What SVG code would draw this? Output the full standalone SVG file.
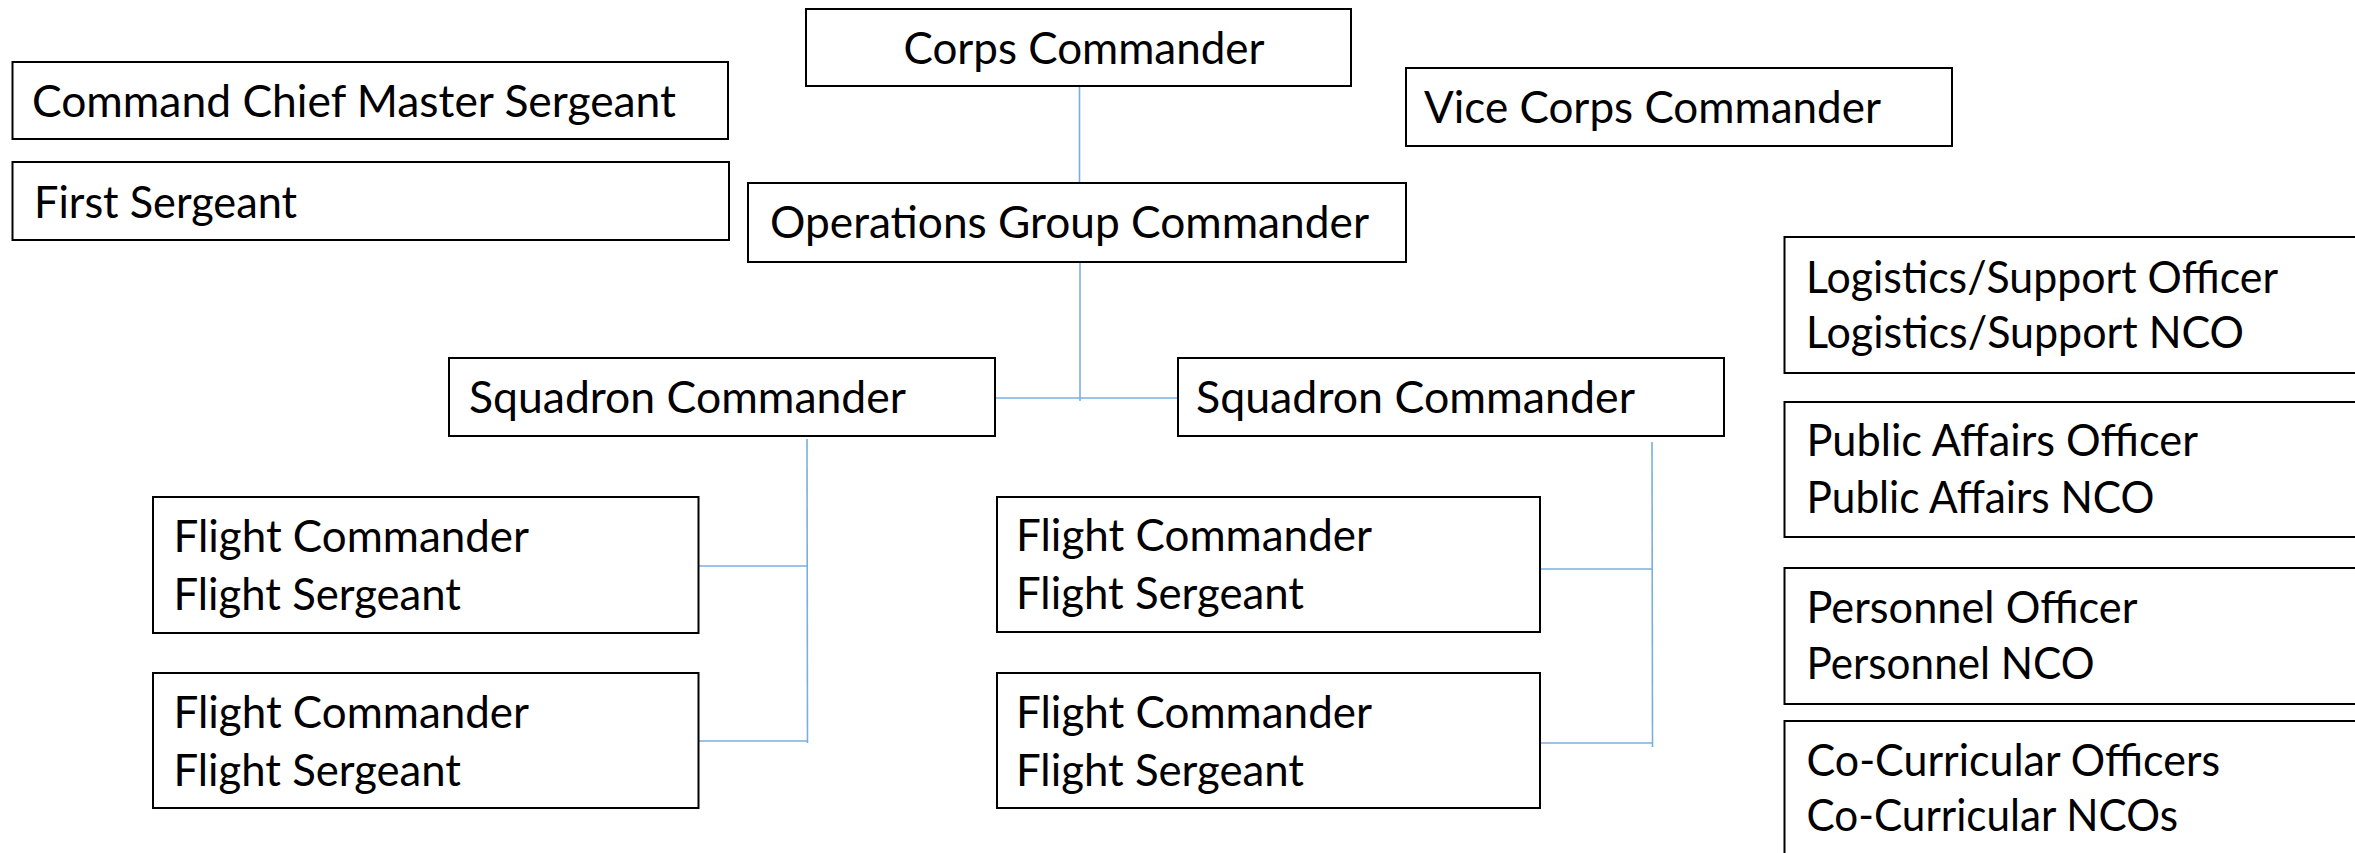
<svg xmlns="http://www.w3.org/2000/svg" width="2355" height="853" viewBox="0 0 2355 853">
<style>
.box{fill:#fff;stroke:#000;stroke-width:2}
.t{font-family:Lato,"Open Sans","Liberation Sans",sans-serif;font-size:44px;fill:#000}
.c{stroke:#7AAEE0;stroke-width:1.6;fill:none}
</style>
<rect width="2355" height="853" fill="#fff"/>
<g id="connectors">
<line class="c" x1="1079.5" y1="86" x2="1079.5" y2="183"/>
<line class="c" x1="1080" y1="262" x2="1080" y2="401"/>
<line class="c" x1="995" y1="398" x2="1178" y2="398"/>
<line class="c" x1="807" y1="439" x2="807.5" y2="743"/>
<line class="c" x1="698" y1="566" x2="807" y2="566"/>
<line class="c" x1="698" y1="741" x2="808" y2="741"/>
<line class="c" x1="1652" y1="442" x2="1652.5" y2="747"/>
<line class="c" x1="1540" y1="569" x2="1652" y2="569"/>
<line class="c" x1="1541" y1="743" x2="1652" y2="743"/>
</g>
<g id="corps-commander">
<rect class="box" x="806" y="9" width="545" height="77"/>
<text class="t" x="903.5" y="64" textLength="361" lengthAdjust="spacingAndGlyphs">Corps Commander</text>
</g>
<g id="command-chief">
<rect class="box" x="12.5" y="62" width="715.5" height="77"/>
<text class="t" x="32" y="117" textLength="644" lengthAdjust="spacingAndGlyphs">Command Chief Master Sergeant</text>
</g>
<g id="first-sergeant">
<rect class="box" x="12.5" y="162" width="716.5" height="78"/>
<text class="t" x="34" y="218" textLength="263" lengthAdjust="spacingAndGlyphs">First Sergeant</text>
</g>
<g id="vice-corps-commander">
<rect class="box" x="1406" y="68" width="546" height="78"/>
<text class="t" x="1424" y="123" textLength="457" lengthAdjust="spacingAndGlyphs">Vice Corps Commander</text>
</g>
<g id="operations-group-commander">
<rect class="box" x="748" y="183" width="658" height="79"/>
<text class="t" x="770" y="238" textLength="599" lengthAdjust="spacingAndGlyphs">Operations Group Commander</text>
</g>
<g id="squadron-commander-left">
<rect class="box" x="449" y="358" width="546" height="78"/>
<text class="t" x="469" y="413" textLength="437" lengthAdjust="spacingAndGlyphs">Squadron Commander</text>
</g>
<g id="squadron-commander-right">
<rect class="box" x="1178" y="358" width="546" height="78"/>
<text class="t" x="1196" y="413" textLength="439" lengthAdjust="spacingAndGlyphs">Squadron Commander</text>
</g>
<g id="flight-left-1">
<rect class="box" x="153" y="497" width="545.5" height="136"/>
<text class="t" x="173.5" y="552" textLength="355.5" lengthAdjust="spacingAndGlyphs">Flight Commander</text>
<text class="t" x="173.5" y="610" textLength="287.5" lengthAdjust="spacingAndGlyphs">Flight Sergeant</text>
</g>
<g id="flight-left-2">
<rect class="box" x="153" y="673" width="545.5" height="135"/>
<text class="t" x="173.5" y="728" textLength="355.5" lengthAdjust="spacingAndGlyphs">Flight Commander</text>
<text class="t" x="173.5" y="786" textLength="287.5" lengthAdjust="spacingAndGlyphs">Flight Sergeant</text>
</g>
<g id="flight-right-1">
<rect class="box" x="997" y="497" width="543" height="135"/>
<text class="t" x="1016" y="551" textLength="356" lengthAdjust="spacingAndGlyphs">Flight Commander</text>
<text class="t" x="1016" y="609" textLength="288" lengthAdjust="spacingAndGlyphs">Flight Sergeant</text>
</g>
<g id="flight-right-2">
<rect class="box" x="997" y="673" width="543" height="135"/>
<text class="t" x="1016" y="728" textLength="356" lengthAdjust="spacingAndGlyphs">Flight Commander</text>
<text class="t" x="1016" y="786" textLength="288" lengthAdjust="spacingAndGlyphs">Flight Sergeant</text>
</g>
<g id="logistics">
<rect class="box" x="1784.5" y="237" width="700" height="136"/>
<text class="t" x="1806" y="293" textLength="472" lengthAdjust="spacingAndGlyphs">Logistics/Support Officer</text>
<text class="t" x="1806" y="348" textLength="438" lengthAdjust="spacingAndGlyphs">Logistics/Support NCO</text>
</g>
<g id="public-affairs">
<rect class="box" x="1784.5" y="402" width="700" height="135"/>
<text class="t" x="1806.5" y="456" textLength="391.5" lengthAdjust="spacingAndGlyphs">Public Affairs Officer</text>
<text class="t" x="1806.5" y="513" textLength="348" lengthAdjust="spacingAndGlyphs">Public Affairs NCO</text>
</g>
<g id="personnel">
<rect class="box" x="1784.5" y="568" width="700" height="136"/>
<text class="t" x="1806.5" y="623" textLength="331" lengthAdjust="spacingAndGlyphs">Personnel Officer</text>
<text class="t" x="1806.5" y="679" textLength="288" lengthAdjust="spacingAndGlyphs">Personnel NCO</text>
</g>
<g id="co-curricular">
<rect class="box" x="1784.5" y="721" width="700" height="200"/>
<text class="t" x="1806.5" y="776" textLength="413.5" lengthAdjust="spacingAndGlyphs">Co-Curricular Officers</text>
<text class="t" x="1806.5" y="831" textLength="371.5" lengthAdjust="spacingAndGlyphs">Co-Curricular NCOs</text>
</g>
</svg>
